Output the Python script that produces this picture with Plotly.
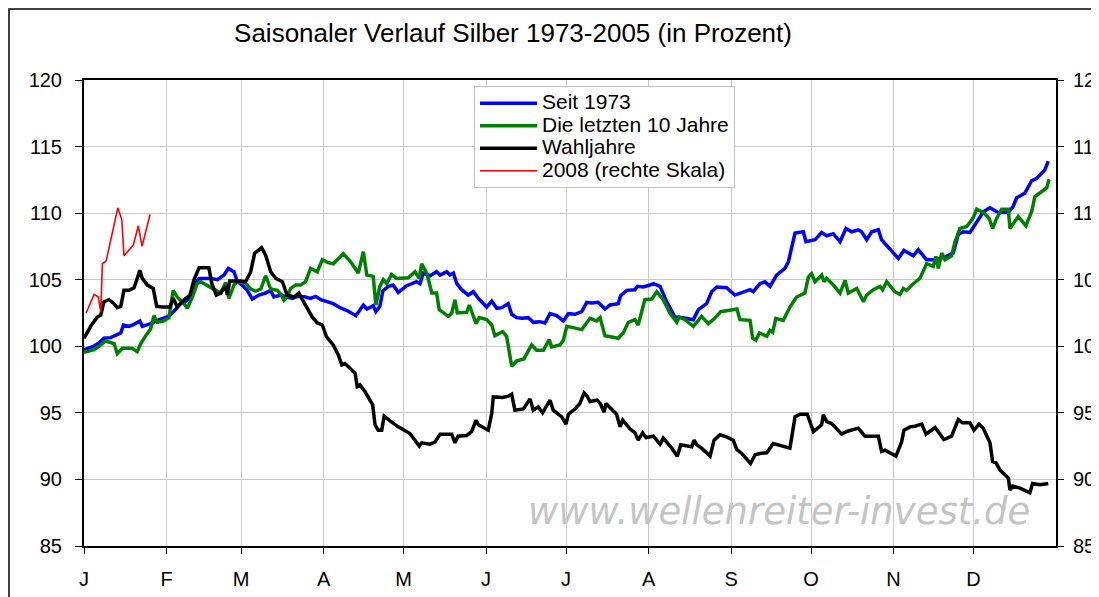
import plotly.graph_objects as go

# x values: day of year (0 = 1 Jan), y values: percent
months = ["J", "F", "M", "A", "M", "J", "J", "A", "S", "O", "N", "D"]
month_start = [0, 31, 59, 90, 120, 151, 181, 212, 243, 273, 304, 334]

seit_x = [0, 3.1, 5.6, 7.5, 10.0, 12.5, 13.8, 14.8, 16.9, 18.8, 21.0, 21.9, 25.0, 28.2, 31.3, 33.2, 34.8, 36.3, 38.2, 40.1,
          41.9, 43.2, 47.6, 50.1, 52.6, 54.2, 56.3, 57.6, 59.4, 61.3, 63.2, 65.7, 68.2, 70.1, 71.3, 73.9, 76.3, 78.2, 80.1, 83.2,
          85.1, 87.0, 88.9, 91.1, 93.6, 96.1, 98.6, 102.1, 104.9, 106.2, 108.6, 109.6, 111.1, 112.2, 114.3, 116.1, 118.0, 121.2,
          124.9, 126.2, 127.4, 129.9, 132.4, 133.7, 136.2, 137.4, 138.7, 140.0, 141.8, 144.3, 146.2, 148.1, 151.2, 153.1, 155.0,
          156.9, 159.3, 160.6, 162.5, 164.4, 166.8, 168.7, 171.2, 173.1, 175.0, 177.5, 180.0, 181.9, 184.4, 186.9, 188.8, 190.6,
          193.1, 195.6, 197.5, 200.6, 201.5, 203.8, 206.9, 207.8, 210.0, 212.5, 213.8, 216.3, 218.8, 221.9, 225.0, 228.8, 230.7,
          233.8, 235.7, 237.6, 239.4, 241.3, 244.4, 246.3, 250.1, 251.3, 253.8, 255.7, 257.6, 260.1, 263.2, 264.5, 267.0, 270.1,
          271.1, 274.5, 277.0, 278.9, 281.4, 283.9, 286.1, 288.3, 290.8, 292.0, 293.9, 295.8, 298.3, 299.5, 301.4, 305.8, 307.9,
          311.4, 313.3, 316.4, 319.5, 323.9, 326.4, 328.3, 330.2, 332.7, 335.8, 337.7, 340.2, 343.3, 347.1, 348.9, 350.2, 353.3,
          355.9, 357.7, 360.8, 362.1]
seit_y = [99.75, 99.95, 100.25, 100.6, 100.65, 100.9, 101.0, 101.6, 101.5, 101.65, 101.9, 101.5, 101.7, 102.0, 102.2, 102.5,
          102.85, 103.2, 103.4, 103.7, 104.7, 105.1, 105.1, 105.0, 105.35, 105.85, 105.6, 104.85, 104.6, 104.2, 103.55, 103.85,
          104.0, 104.2, 103.7, 103.85, 103.7, 103.6, 103.75, 103.7, 103.6, 103.75, 103.5, 103.35, 103.2, 102.9, 102.7, 102.3,
          103.1, 102.8, 103.05, 102.6, 103.0, 104.15, 104.5, 104.6, 104.05, 104.55, 104.85, 104.7, 105.5, 105.3, 105.6, 105.35,
          105.6, 105.35, 105.5, 104.7, 104.25, 103.85, 104.1, 103.6, 102.95, 103.4, 102.85, 102.9, 103.2, 102.4, 102.15, 102.1,
          102.15, 101.8, 101.85, 101.75, 102.45, 102.3, 101.9, 102.45, 102.4, 102.6, 103.3, 103.25, 103.3, 102.8, 103.1, 103.2,
          103.8, 104.2, 104.25, 104.5, 104.45, 104.6, 104.7, 104.5, 103.35, 102.2, 102.15, 102.0, 102.75, 103.2, 104.1, 104.45,
          104.4, 104.4, 103.85, 104.0, 104.25, 104.1, 104.7, 104.85, 104.5, 105.35, 105.85, 106.35, 108.5, 108.6, 107.85, 108.0,
          108.55, 108.3, 108.45, 107.85, 108.85, 108.6, 108.75, 108.6, 108.0, 108.6, 108.75, 108.0, 107.6, 106.6, 107.2, 106.8,
          107.25, 106.5, 106.5, 106.75, 107.0, 108.4, 108.6, 108.55, 109.5, 110.1, 110.4, 110.05, 110.05, 110.5, 111.15, 111.5,
          112.45, 112.6, 113.25, 113.9]

zehn_x = [0, 3.8, 5.6, 8.1, 11.3, 12.5, 14.4, 18.1, 20.0, 21.3, 23.2, 25.0, 26.3, 27.5, 29.8, 31.9, 33.5, 35.0, 37.6, 38.8,
          40.7, 42.5, 43.8, 46.3, 48.2, 51.3, 53.2, 54.4, 56.3, 57.6, 60.7, 62.6, 64.5, 66.4, 68.2, 70.1, 72.6, 73.9, 75.1, 76.3,
          77.6, 79.5, 81.4, 83.2, 85.1, 87.6, 89.5, 91.4, 93.6, 97.4, 99.9, 103.0, 104.9, 106.2, 108.6, 109.6, 111.1, 112.4, 113.7,
          115.5, 117.4, 121.8, 124.3, 125.9, 126.8, 128.7, 130.6, 132.4, 133.4, 136.8, 138.1, 139.3, 140.2, 143.7, 144.7, 147.2,
          148.4, 151.2, 153.1, 154.3, 157.2, 158.7, 160.6, 162.5, 165.2, 168.1, 170.0, 172.5, 174.7, 175.6, 178.7, 180.0, 181.3,
          183.7, 186.9, 190.0, 192.5, 193.8, 195.6, 198.2, 200.6, 202.5, 204.4, 206.9, 208.1, 210.6, 213.2, 215.1, 217.5, 220.0,
          222.6, 223.5, 225.7, 228.8, 231.9, 234.4, 236.3, 239.1, 243.8, 245.2, 246.3, 250.1, 251.1, 252.3, 253.6, 256.4, 257.6,
          258.6, 259.8, 262.6, 265.1, 267.6, 270.7, 272.0, 273.2, 274.5, 277.0, 277.9, 278.9, 281.4, 283.9, 285.8, 287.0, 290.2,
          292.7, 293.9, 296.4, 298.9, 299.9, 301.4, 304.5, 306.4, 307.7, 308.9, 311.4, 313.9, 316.4, 318.9, 319.9, 320.8, 322.1,
          323.3, 325.8, 327.1, 328.9, 331.5, 333.9, 335.2, 337.7, 339.9, 341.2, 342.7, 344.6, 347.1, 347.7, 350.8, 353.7, 355.9,
          357.1, 359.0, 361.5, 362.4]
zehn_y = [99.55, 99.75, 100.0, 100.4, 100.2, 99.45, 99.85, 99.85, 99.6, 100.2, 100.8, 101.3, 102.3, 101.8, 101.9, 102.15,
          104.2, 103.7, 103.2, 102.85, 103.7, 104.7, 104.85, 104.6, 104.35, 104.0, 104.8, 103.6, 104.6, 104.85, 104.75, 104.3,
          104.15, 104.3, 105.3, 104.3, 104.2, 103.9, 103.45, 103.7, 104.35, 104.6, 104.6, 104.85, 105.85, 105.6, 106.5, 106.3,
          106.2, 106.95, 106.4, 105.5, 107.1, 105.35, 105.25, 103.1, 104.5, 105.0, 104.7, 105.4, 105.1, 105.15, 105.6, 105.1,
          106.2, 105.5, 104.0, 104.0, 102.75, 102.25, 102.5, 103.5, 102.5, 102.55, 103.1, 101.7, 102.15, 102.0, 101.6, 100.8,
          101.1, 100.75, 98.5, 98.9, 99.05, 100.1, 99.7, 99.7, 100.5, 99.95, 100.1, 100.45, 101.5, 101.4, 101.25, 102.1, 101.9,
          102.15, 100.8, 100.7, 100.6, 101.0, 101.8, 102.0, 101.6, 103.5, 103.55, 104.1, 103.5, 102.5, 101.8, 102.2, 102.0, 101.5,
          102.25, 101.7, 102.0, 102.6, 102.75, 102.8, 102.0, 101.95, 100.6, 100.45, 101.0, 100.75, 101.2, 101.05, 102.1, 101.95,
          102.95, 103.7, 104.0, 105.2, 105.45, 104.85, 105.35, 104.85, 105.1, 104.6, 104.0, 104.95, 104.0, 104.35, 103.35,
          103.85, 104.25, 104.5, 104.25, 104.85, 104.1, 103.9, 104.35, 104.2, 104.7, 105.1, 106.2, 106.0, 106.75, 105.85, 107.0,
          106.5, 106.8, 107.85, 108.85, 109.0, 109.65, 110.3, 110.05, 109.6, 108.85, 109.6, 110.3, 110.3, 108.85, 109.75, 109.05,
          110.15, 111.25, 111.5, 111.9, 112.55]

wahl_x = [0, 2.5, 5.0, 6.3, 7.5, 9.4, 11.3, 12.5, 13.8, 15.0, 16.9, 18.8, 21.0, 21.9, 23.8, 26.0, 27.3, 29.4, 32.3, 33.5,
          35.0, 37.6, 39.8, 41.3, 43.2, 46.9, 48.0, 49.7, 51.3, 53.2, 53.8, 54.7, 58.8, 60.7, 62.6, 64.1, 66.7, 68.2, 70.1, 72.0,
          74.5, 76.3, 78.9, 80.7, 82.0, 83.6, 85.7, 87.6, 89.5, 91.1, 93.6, 95.5, 96.8, 98.0, 99.9, 101.8, 102.6, 103.6, 105.5,
          108.4, 109.3, 110.5, 111.8, 112.7, 114.9, 118.0, 122.4, 124.3, 125.9, 126.8, 129.9, 131.8, 133.7, 138.1, 139.3, 140.5,
          143.7, 145.6, 147.2, 148.1, 151.8, 153.1, 153.7, 157.2, 159.3, 160.6, 161.8, 165.0, 167.5, 168.7, 170.6, 172.2, 175.0,
          176.2, 179.4, 181.0, 181.9, 184.4, 186.2, 187.8, 188.8, 190.0, 192.7, 194.0, 195.3, 196.0, 198.8, 200.0, 201.3, 202.3,
          205.0, 206.9, 208.1, 209.8, 211.0, 213.8, 216.3, 217.5, 220.7, 222.8, 224.1, 228.2, 229.1, 230.1, 231.9, 235.1, 236.6,
          238.8, 241.3, 243.8, 245.1, 247.0, 250.3, 252.0, 253.8, 256.4, 258.8, 260.7, 265.1, 267.0, 268.9, 271.6, 273.9, 277.0,
          277.6, 278.9, 280.8, 284.5, 286.4, 290.7, 293.3, 298.3, 299.5, 300.8, 302.7, 304.9, 307.0, 307.9, 310.2, 312.0, 314.6,
          316.2, 319.6, 322.9, 325.8, 328.3, 329.9, 332.7, 334.2, 336.1, 337.7, 340.2, 341.2, 342.5, 344.0, 347.1, 347.7, 348.7,
          351.5, 354.0, 355.2, 356.2, 359.0, 362.1]
wahl_y = [100.6, 101.5, 102.2, 102.35, 103.35, 103.5, 103.2, 102.9, 103.0, 104.2, 104.2, 104.4, 105.7, 105.1, 104.6, 104.35,
          103.0, 102.95, 102.95, 103.6, 102.95, 103.5, 103.85, 105.0, 105.9, 105.9, 104.7, 103.85, 104.0, 104.5, 103.85, 104.9,
          104.9, 104.85, 105.6, 107.0, 107.4, 106.85, 105.6, 105.1, 104.85, 103.85, 103.7, 104.0, 103.5, 102.9, 102.2, 101.75,
          101.6, 100.7, 100.1, 99.35, 98.6, 98.7, 98.35, 97.97, 96.97, 97.1, 96.6, 95.6, 94.1, 93.7, 93.7, 94.75, 94.4, 93.95,
          93.45, 92.95, 92.5, 92.75, 92.65, 92.8, 93.4, 93.4, 92.75, 93.25, 93.3, 93.6, 94.45, 94.1, 93.7, 94.95, 96.2, 96.15,
          96.25, 96.4, 95.2, 95.3, 96.05, 95.2, 95.45, 95.0, 95.95, 95.2, 94.7, 94.15, 94.9, 95.3, 95.7, 96.5, 96.3, 95.85, 95.95,
          95.65, 95.05, 95.7, 95.1, 94.9, 93.95, 94.45, 93.8, 93.5, 92.95, 93.5, 93.15, 93.25, 92.65, 93.1, 92.35, 91.75, 92.6,
          92.45, 92.95, 92.6, 92.35, 91.75, 92.95, 93.35, 93.2, 92.95, 92.25, 91.95, 91.2, 91.85, 91.95, 92.0, 92.7, 92.6, 92.35,
          94.7, 94.9, 94.9, 93.6, 94.1, 94.85, 94.35, 94.2, 93.4, 93.6, 93.85, 93.25, 93.25, 92.1, 92.2, 92.0, 91.75, 92.8, 93.7,
          93.95, 94.0, 94.15, 93.4, 93.9, 93.0, 93.25, 94.5, 94.25, 94.25, 93.7, 94.15, 93.85, 92.75, 91.35, 91.25, 90.7, 90.1,
          89.2, 89.5, 89.35, 89.1, 89.0, 89.7, 89.6, 89.7]

y2008_x = [0.8, 3.8, 5.4, 6.3, 6.9, 8.3, 12.7, 14.2, 15.0, 18.5, 20.4, 21.8, 24.8]
y2008_y = [102.5, 103.9, 103.7, 102.55, 106.2, 106.4, 110.4, 109.5, 106.8, 107.6, 109.05, 107.5, 109.9]

y_ticks = [85, 90, 95, 100, 105, 110, 115, 120]

FONT = "Liberation Sans, Arial, sans-serif"
GRID = "#c8c8c8"

# the page body has an 8 px margin, so the figure is 8 px smaller than the window
W, H = 1091, 589
ML, MT, MR, MB = 76, 72, 43, 51
PW, PH = W - ML - MR, H - MT - MB


def leg(name):
    return "<span style='font-size:21px'>" + name + "</span>"


fig = go.Figure()
fig.add_trace(go.Scatter(x=seit_x, y=seit_y, mode="lines", name=leg("Seit 1973"),
                         line=dict(color="#0000ff", width=3.5)))
fig.add_trace(go.Scatter(x=zehn_x, y=zehn_y, mode="lines", name=leg("Die letzten 10 Jahre"),
                         line=dict(color="#008000", width=3.5)))
fig.add_trace(go.Scatter(x=wahl_x, y=wahl_y, mode="lines", name=leg("Wahljahre"),
                         line=dict(color="#000000", width=3.5)))
fig.add_trace(go.Scatter(x=y2008_x, y=y2008_y, mode="lines", name=leg("2008 (rechte Skala)"),
                         line=dict(color="#ff0000", width=1.6), yaxis="y2"))

fig.update_layout(
    width=W, height=H,
    margin=dict(l=ML, r=MR, t=MT, b=MB, autoexpand=False),
    paper_bgcolor="white", plot_bgcolor="white",
    font=dict(family=FONT, size=20, color="black"),
    title=dict(text="Saisonaler Verlauf Silber 1973-2005 (in Prozent)",
               x=(505 - ML) / PW, xref="paper", xanchor="center",
               y=1 - 25 / H, yref="container", yanchor="middle",
               font=dict(family=FONT, size=26, color="black")),
    showlegend=True,
    legend=dict(x=(466 - ML) / PW, y=(PH + MT - 78) / PH, xanchor="left", yanchor="top",
                bgcolor="white", bordercolor="#c0c0c0", borderwidth=1,
                font=dict(family=FONT, size=15, color="black"),
                itemwidth=57, tracegroupgap=0),
    xaxis=dict(range=[0, 365], tickmode="array", tickvals=month_start, ticktext=months,
               showgrid=True, gridcolor=GRID, gridwidth=1, automargin=False,
               showline=True, linecolor="black", linewidth=1.5, mirror=True,
               ticks="outside", ticklen=6, tickcolor="black",
               ticklabelstandoff=8, zeroline=False),
    yaxis=dict(range=[85, 120], tickvals=y_ticks, automargin=False,
               showgrid=True, gridcolor=GRID, gridwidth=1,
               showline=True, linecolor="black", linewidth=2,
               ticks="outside", ticklen=7, tickcolor="black",
               ticklabelstandoff=9, zeroline=False),
    yaxis2=dict(range=[85, 120], tickvals=y_ticks, overlaying="y", side="right",
                showgrid=False, showline=True, linecolor="black", linewidth=2,
                automargin=False,
                ticks="outside", ticklen=6, tickcolor="black",
                ticklabelstandoff=5, zeroline=False),
)

# watermark
fig.add_annotation(text="www.wellenreiter-invest.de", xref="paper", yref="paper",
                   x=(771 - ML) / PW, y=(PH + MT - 503) / PH, xanchor="center", yanchor="middle",
                   showarrow=False,
                   font=dict(family="DejaVu Sans, Verdana, sans-serif", size=37, color="#c4c4c4",
                             style="italic"))

# chart-area frame (runs off the right and bottom edges, as in the original)
fig.add_shape(type="rect", xref="paper", yref="paper",
              x0=(1 - ML) / PW, x1=(W + 20 - ML) / PW,
              y0=(PH + MT - (H + 20)) / PH, y1=(PH + MT - 1) / PH,
              line=dict(color="black", width=1.5), fillcolor="rgba(0,0,0,0)", layer="below")

fig.write_html("out.html")
